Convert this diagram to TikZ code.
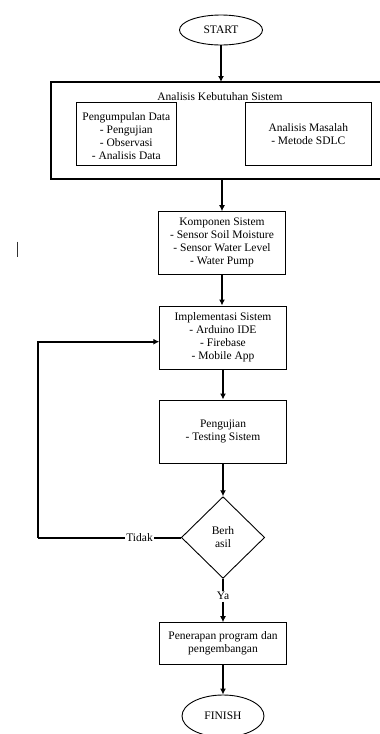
\documentclass[tikz,border=0pt]{standalone}
\usepackage{fontspec}
\setmainfont{Liberation Serif}
\usetikzlibrary{shapes.geometric,arrows.meta}
\begin{document}
\begin{tikzpicture}[x=1pt,y=-1pt,
  txt/.style={font=\fontsize{11.5}{13}\selectfont, align=center, inner sep=0pt},
  boxs/.style={draw, line width=1pt},
  arr/.style={line width=2pt, -{Latex[length=6pt,width=6pt]}},
  lin/.style={line width=2pt}]
\clip (0,0) rectangle (380,734);
\fill[white] (0,0) rectangle (380,734);
% START
\node[draw, ellipse, line width=0.9pt, minimum width=83pt, minimum height=30pt, inner sep=0pt, txt] (start) at (221,30) {START};
% outer box
\draw[line width=2pt] (50.7,82) rectangle (386,179);
\coordinate (outerN) at (221,82);
\coordinate (outerS) at (222,179);
\node[txt] (title) at (220,96.5) {Analisis Kebutuhan Sistem};
% inner boxes
\draw[boxs] (76.7,102.7) rectangle (176,165.7);
\node[txt] (pd) at (126.3,136) {Pengumpulan Data\\- Pengujian\\- Observasi\\- Analisis Data};
\draw[boxs] (245,102.7) rectangle (371.7,165.7);
\node[txt] (am) at (308.3,134.5) {Analisis Masalah\\- Metode SDLC};
% Komponen
\node[boxs, minimum width=127.4pt, minimum height=62.3pt, inner sep=0pt, txt] (komp) at (222,242.85) {Komponen Sistem\\- Sensor Soil Moisture\\- Sensor Water Level\\- Water Pump};
% Implementasi
\node[boxs, minimum width=127.4pt, minimum height=63.3pt, inner sep=0pt, txt] (impl) at (223,337.65) {Implementasi Sistem\\- Arduino IDE\\- Firebase\\- Mobile App};
% Pengujian
\node[boxs, minimum width=127.4pt, minimum height=63.3pt, inner sep=0pt, txt] (uji) at (223,431.65) {Pengujian\\- Testing Sistem};
% Decision
\node[draw, diamond, line width=0.9pt, minimum width=83.3pt, minimum height=81.6pt, inner sep=0pt, txt] (dec) at (223,537.5) {Berh\\asil};
% Penerapan
\node[boxs, minimum width=127.4pt, minimum height=41.3pt, inner sep=0pt, txt] (pen) at (223,643.35) {Penerapan program dan\\pengembangan};
% FINISH
\node[draw, ellipse, line width=0.9pt, minimum width=82pt, minimum height=42pt, inner sep=0pt, txt] (fin) at (223,716) {FINISH};
% arrows
\draw[arr] (start.south) -- (start.south |- outerN);
\draw[arr] (outerS) -- (outerS |- komp.north);
\draw[arr] (komp.south) -- (komp.south |- impl.north);
\draw[arr] (impl.south) -- (uji.north);
\draw[arr] (uji.south) -- (dec.north);
\draw[lin] (dec.south) -- (223,596) node[txt, fill=white, inner sep=1pt] (ya) {Ya};
\draw[arr] (ya.south) -- (pen.north);
\draw[arr] (pen.south) -- (fin.north);
% feedback
\coordinate (fbin) at (159.3,341.7);
\coordinate (fbc) at (38.3,537.5);
\draw[lin] (dec.west) -- node[txt, fill=white, inner sep=1pt, pos=0.29] (tidak) {Tidak} (fbc);
\draw[arr] (fbc) |- (fbin);
% cursor mark
\draw[line width=0.9pt, black!80] (17.7,241.7) -- (17.7,257);
\end{tikzpicture}
\end{document}
